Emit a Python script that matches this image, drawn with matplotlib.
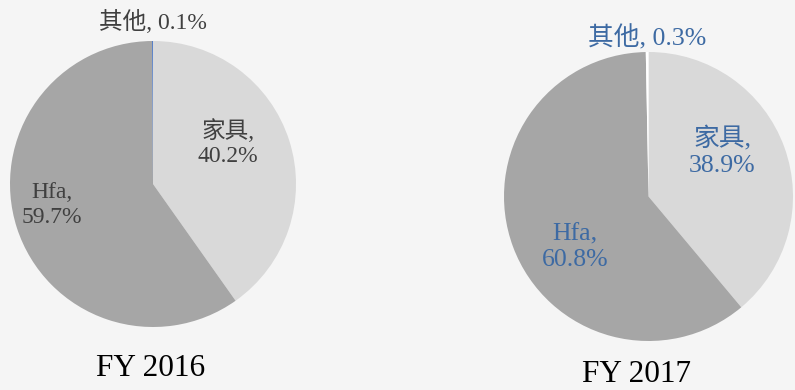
import matplotlib
matplotlib.use("Agg")
import matplotlib.pyplot as plt

plt.rcParams['font.family'] = ['Liberation Serif', 'Noto Sans CJK SC']

# segments, clockwise from 12 o'clock
categories = ['家具', 'Hfa', '其他']
values_2016 = [40.2, 59.7, 0.1]
values_2017 = [38.9, 60.8, 0.3]
titles = ['FY 2016', 'FY 2017']

W, H = 795, 390
fig = plt.figure(figsize=(W / 100, H / 100), dpi=100)
fig.patch.set_facecolor('#f5f5f5')
ax = fig.add_axes([0, 0, 1, 1])
ax.set_facecolor('#f5f5f5')

# left pie: thin blue "other" slice, grey text
ax.pie(values_2016, colors=['#d9d9d9', '#a6a6a6', '#4472c4'], startangle=90,
       counterclock=False, center=(153, H - 184), radius=143, frame=True)
# right pie: white "other" slice, blue text
ax.pie(values_2017, colors=['#d9d9d9', '#a6a6a6', '#ffffff'], startangle=90,
       counterclock=False, center=(648.5, H - 196.5), radius=144.5, frame=True)

ax.set_xlim(0, W)
ax.set_ylim(0, H)
ax.set_aspect('equal')
ax.axis('off')

c1 = '#404040'
c2 = '#3d6aa3'
fs1, fs2 = 17, 18.5

def lab(v, name):
    return '{},\n{:.1f}%'.format(name, v)

ax.text(153, H - 22, '{}, {:.1f}%'.format(categories[2], values_2016[2]),
        ha='center', va='center', fontsize=fs1, color=c1)
ax.text(228, H - 143, lab(values_2016[0], categories[0]), ha='center',
        va='center', fontsize=fs1, color=c1, linespacing=1.2)
ax.text(52, H - 205, lab(values_2016[1], categories[1]), ha='center',
        va='center', fontsize=fs1, color=c1, linespacing=1.2)
ax.text(151, H - 368, titles[0], ha='center', va='center', fontsize=22.5,
        color='black')

ax.text(647, H - 38, '{}, {:.1f}%'.format(categories[2], values_2017[2]),
        ha='center', va='center', fontsize=fs2, color=c2)
ax.text(722, H - 152, lab(values_2017[0], categories[0]), ha='center',
        va='center', fontsize=fs2, color=c2, linespacing=1.2)
ax.text(575, H - 247, lab(values_2017[1], categories[1]), ha='center',
        va='center', fontsize=fs2, color=c2, linespacing=1.2)
ax.text(636, H - 375, titles[1], ha='center', va='center', fontsize=22.5,
        color='black')

fig.savefig('out.png', dpi=100, facecolor=fig.get_facecolor())
